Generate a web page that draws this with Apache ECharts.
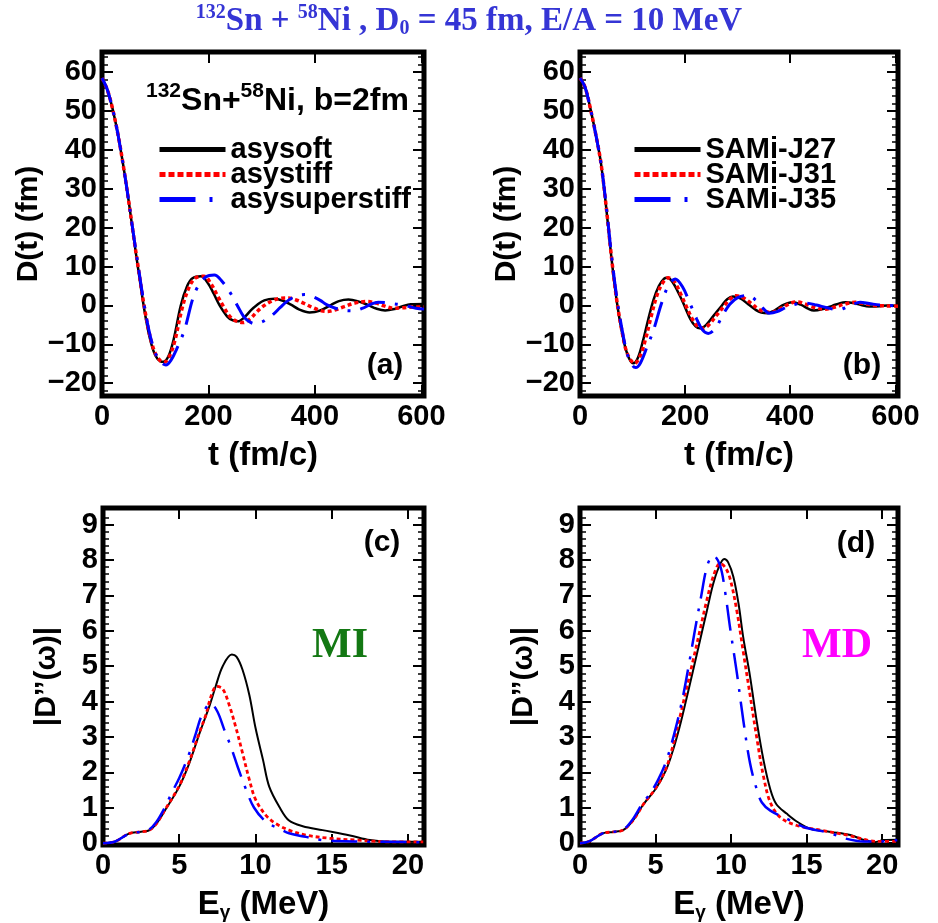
<!DOCTYPE html>
<html>
<head>
<meta charset="utf-8">
<script src="https://cdn.jsdelivr.net/npm/echarts@6/dist/echarts.min.js"></script>
<style>
  html, body { margin: 0; padding: 0; background: #fff; }
  #chart { width: 938px; height: 923px; }
</style>
</head>
<body>
<div id="chart"></div>
<script>
// ---- Dipole moment D(t) in fm, panel (a): three symmetry-energy stiffnesses ----
const asysoft = [[0,58.5],[10,55.5],[20,50.5],[30,44],[40,36],[50,27],[60,17],[70,7.5],[80,-1.5],[90,-8.5],[100,-12.8],[110,-14.4],[115,-14.5],[125,-13],[135,-8.5],[148,0],[160,5],[170,7],[186,7.5],[200,5.5],[210,3],[221,0],[235,-2.8],[245,-3.8],[255,-4.1],[268,-3],[280,-1.2],[290,0],[305,1.3],[324,1.7],[340,1.2],[355,0.2],[370,-1],[390,-1.8],[410,-1.3],[430,0.1],[445,1.1],[463,1.5],[480,1.1],[500,0.1],[515,-0.8],[532,-1.3],[550,-0.9],[565,-0.2],[580,0.3],[605,0.4]];
const asystiff = [[0,58.5],[10,55.5],[20,50.5],[30,44],[40,36],[50,27],[60,17.2],[70,8],[80,-0.8],[90,-7.8],[100,-12.3],[110,-14.3],[117,-14.6],[127,-13],[137,-9],[150,-1],[163,4.5],[175,7],[192,7.5],[205,5.5],[215,3],[227,0],[240,-2.8],[252,-4],[265,-4.4],[278,-3.5],[292,-1.5],[305,0],[320,1.2],[335,1.8],[350,1.9],[365,1.4],[380,0.5],[395,-0.5],[410,-1.3],[422,-1.55],[437,-1.2],[455,-0.3],[475,0.6],[497,1.0],[515,0.6],[530,-0.1],[547,-0.7],[565,-0.6],[585,-0.4],[605,-0.4]];
const asysuperstiff = [[0,58.5],[10,55.5],[20,50.5],[30,44],[40,36],[50,27],[60,17.5],[70,8.3],[80,-0.5],[90,-7.5],[100,-12.2],[110,-14.5],[120,-15.3],[130,-14],[140,-11.3],[155,-6.3],[170,1.5],[180,4.8],[195,7.3],[211,7.8],[225,6.3],[243,2.8],[255,-0.2],[265,-2.6],[275,-4],[287,-4.7],[300,-4.3],[310,-3.5],[321,-2.4],[335,-0.5],[350,1.3],[365,2.4],[381,2.8],[395,2.3],[410,1.3],[422,0.2],[440,-0.8],[455,-1.3],[472,-1.4],[490,-0.7],[505,0.3],[519,0.8],[535,0.7],[548,0.4],[560,0.2],[575,-0.2],[590,-0.7],[605,-0.95]];

// ---- Dipole moment D(t), panel (b): SAMi-J interactions ----
const samiJ27 = [[0,58.5],[10,56],[20,50.5],[30,44],[40,36.5],[50,25],[60,12],[70,1],[80,-7],[90,-12.5],[101,-14.9],[110,-13.5],[120,-9],[130,-3.5],[140,1.5],[150,5],[160,6.9],[166,7.1],[175,6.2],[190,2.5],[200,-0.5],[210,-3.5],[220,-5.4],[228,-5.9],[240,-5],[255,-2.5],[270,0],[280,1.6],[291,2.3],[305,1.8],[320,0.3],[335,-1.2],[345,-1.8],[357,-2],[370,-1.3],[385,0],[395,0.6],[405,0.8],[420,0.2],[435,-0.9],[445,-1.3],[460,-1.0],[480,-0.1],[495,0.6],[505,0.8],[520,0.6],[535,0.1],[550,-0.25],[570,-0.2],[585,0],[605,-0.1]];
const samiJ31 = [[0,58.5],[10,56],[20,50.5],[30,44],[40,36.5],[50,25.2],[60,12.3],[70,1.3],[80,-6.7],[90,-12.4],[104,-14.9],[115,-12.8],[125,-8.5],[135,-3],[145,2],[155,5.3],[168,7.1],[180,6],[193,2.5],[203,-0.5],[213,-3.3],[223,-5.3],[233,-5.9],[245,-5],[260,-2.5],[275,0],[285,1.6],[297,2.5],[310,2],[325,0.6],[340,-1],[352,-1.6],[363,-1.8],[377,-1.1],[392,0],[403,0.7],[414,0.9],[428,0.4],[445,-0.5],[467,-0.95],[485,-0.4],[505,0.4],[524,0.8],[540,0.5],[560,0],[580,-0.1],[605,-0.2]];
const samiJ35 = [[0,58.5],[10,56],[20,50.5],[30,44],[40,36.5],[50,25.5],[60,12.8],[70,2],[80,-6.2],[90,-12.5],[100,-15.5],[106,-16],[115,-14.8],[128,-10.5],[140,-6.3],[155,0.5],[168,5],[181,6.8],[195,4.8],[209,0.6],[222,-3.5],[233,-6.3],[244,-7.2],[258,-5.8],[272,-2.4],[285,0.3],[300,2],[319,2.6],[335,1.3],[348,-0.7],[360,-2],[375,-1.6],[392,-0.5],[410,0.3],[430,0.6],[450,0.1],[470,-0.6],[492,-1.1],[510,-0.3],[533,0.8],[550,0.5],[570,0.1],[605,-0.1]];

// ---- Strength |D''(omega)| vs E_gamma (MeV), panel (c): momentum-independent ----
const miSoft = [[0,0],[0.8,0.05],[1.7,0.27],[2.4,0.32],[3.0,0.36],[3.5,0.55],[4.1,0.95],[5.0,1.6],[5.65,2.25],[6.3,3.07],[7.0,3.9],[7.4,4.45],[7.85,5.0],[8.45,5.33],[8.75,5.27],[9.15,4.9],[9.6,4.18],[10.0,3.26],[10.5,2.34],[10.9,1.6],[11.6,1.0],[12.2,0.64],[13.1,0.48],[14.4,0.37],[16.2,0.22],[17.5,0.09],[18.8,0.04],[20.1,0.04],[21,0.04]];
const miStiff = [[0,0],[0.8,0.05],[1.7,0.27],[2.4,0.32],[3.0,0.36],[3.5,0.55],[4.1,0.97],[5.0,1.62],[5.65,2.3],[6.3,3.1],[6.75,3.63],[7.07,4.13],[7.45,4.43],[7.85,4.36],[8.28,3.9],[8.72,3.26],[9.16,2.53],[9.6,1.79],[10.0,1.24],[10.7,0.78],[11.35,0.55],[12.2,0.37],[13.3,0.23],[14.85,0.14],[16.6,0.09],[18.8,0.04],[21,0.04]];
const miSuperstiff = [[0,0],[0.8,0.05],[1.7,0.27],[2.4,0.32],[3.0,0.38],[3.5,0.6],[4.1,1.05],[4.5,1.42],[5.0,1.84],[5.65,2.53],[6.1,3.12],[6.5,3.63],[7.07,3.95],[7.5,3.72],[7.95,3.21],[8.4,2.71],[8.83,2.16],[9.38,1.52],[9.9,1.01],[10.7,0.6],[11.57,0.41],[12.2,0.28],[13.3,0.18],[14.4,0.09],[16.6,0.05],[21,0.03]];

// ---- Strength |D''(omega)|, panel (d): momentum-dependent (SAMi-J) ----
const mdJ27 = [[0,0],[0.6,0.05],[1.5,0.28],[2.2,0.32],[2.85,0.37],[3.5,0.64],[4.2,1.1],[5.05,1.56],[5.7,2.07],[6.15,2.62],[6.6,3.3],[7.05,4.09],[7.5,4.91],[7.95,5.74],[8.4,6.57],[8.8,7.3],[9.15,7.76],[9.55,8.03],[9.8,7.94],[10.15,7.53],[10.5,6.75],[10.8,5.83],[11.25,4.73],[11.7,3.44],[12.15,2.34],[12.6,1.52],[13.0,1.1],[13.7,0.83],[14.4,0.6],[15.25,0.41],[16.6,0.32],[17.9,0.23],[18.8,0.09],[19.5,0.03],[20.1,0.09],[21,0.1]];
const mdJ31 = [[0,0],[0.6,0.05],[1.5,0.28],[2.2,0.32],[2.85,0.37],[3.5,0.64],[4.2,1.1],[5.05,1.58],[5.7,2.12],[6.15,2.75],[6.6,3.54],[7.05,4.36],[7.5,5.19],[7.94,6.01],[8.38,6.84],[8.82,7.53],[9.27,7.9],[9.6,7.8],[9.93,7.48],[10.38,6.57],[10.82,5.37],[11.26,4.18],[11.7,2.98],[12.15,1.88],[12.6,1.15],[13.26,0.73],[14.37,0.5],[15.9,0.37],[17.7,0.23],[19.0,0.09],[19.7,0.05],[21,0.05]];
const mdJ35 = [[0,0],[0.6,0.05],[1.5,0.28],[2.2,0.32],[2.85,0.38],[3.5,0.68],[4.1,1.1],[4.6,1.38],[5.17,1.79],[5.72,2.34],[6.34,3.26],[6.83,4.18],[7.23,5.1],[7.6,6.0],[8.0,6.93],[8.43,7.85],[8.82,8.13],[9.27,7.85],[9.6,7.12],[9.93,6.1],[10.38,4.82],[10.82,3.44],[11.26,2.25],[11.7,1.52],[12.04,1.15],[12.6,0.92],[13.7,0.69],[14.8,0.46],[16.6,0.28],[17.5,0.14],[18.8,0.05],[19.9,0.05],[21,0.09]];

// ---- Axis ticks and labels ----
const timeTicks = [0, 200, 400, 600];
const dipoleTicks = [-20, -10, 0, 10, 20, 30, 40, 50, 60];
const dipoleMinor = [-22, -18, -16, -14, -12, -8, -6, -4, -2, 2, 4, 6, 8, 12, 14, 16, 18, 22, 24, 26, 28, 32, 34, 36, 38, 42, 44, 46, 48, 52, 54, 56, 58, 62, 64];
const energyTicks = [0, 5, 10, 15, 20];
const strengthTicks = [0, 1, 2, 3, 4, 5, 6, 7, 8, 9];
const strengthMinor = [];
for (let i = 0; i < 47; i++) { if (i % 5 !== 0) strengthMinor.push(+(i * 0.2).toFixed(1)); }

const softNames = ['asysoft', 'asystiff', 'asysuperstiff'];
const samiNames = ['SAMi-J27', 'SAMi-J31', 'SAMi-J35'];

const LABEL_FONT = 'Liberation Sans, Arial, sans-serif';
const SERIF_FONT = 'Liberation Serif, Times New Roman, serif';

const panels = [
  { grid: { left: 102, top: 52, width: 322, height: 344 }, x: [0, 605], y: [-23.3, 65.2],
    xTicks: timeTicks, yTicks: dipoleTicks, yMinor: dipoleMinor,
    xName: 't (fm/c)', yName: 'D(t) (fm)', yGap: 58 },
  { grid: { left: 580, top: 52, width: 318, height: 344 }, x: [0, 605], y: [-23.3, 65.2],
    xTicks: timeTicks, yTicks: dipoleTicks, yMinor: dipoleMinor,
    xName: 't (fm/c)', yName: 'D(t) (fm)', yGap: 58 },
  { grid: { left: 103, top: 508, width: 321, height: 346 }, x: [0, 21.05], y: [-0.05, 9.47],
    xTicks: energyTicks, yTicks: strengthTicks, yMinor: strengthMinor,
    xName: '{n|E}{s|γ}{n| (MeV)}', yName: '|D’’(ω)|', yGap: 41 },
  { grid: { left: 580, top: 508, width: 318, height: 346 }, x: [0, 21.05], y: [-0.05, 9.47],
    xTicks: energyTicks, yTicks: strengthTicks, yMinor: strengthMinor,
    xName: '{n|E}{s|γ}{n| (MeV)}', yName: '|D’’(ω)|', yGap: 41 }
];

const fmt = v => (v < 0 ? '\u2212' + Math.abs(v) : String(v));
const tickStyle = w => ({ color: '#000', width: w });
const hiddenLine = { show: false, onZero: false };

const grids = [], xAxes = [], yAxes = [];
panels.forEach((p, gi) => {
  grids.push(Object.assign({ show: true, borderWidth: 5, borderColor: '#000', backgroundColor: '#fff', containLabel: false }, p.grid));
  const xBase = { type: 'value', gridIndex: gi, min: p.x[0], max: p.x[1], splitLine: { show: false }, axisLine: hiddenLine };
  const yBase = { type: 'value', gridIndex: gi, min: p.y[0], max: p.y[1], splitLine: { show: false }, axisLine: hiddenLine };
  // bottom axis with labels and title
  xAxes.push(Object.assign({}, xBase, {
    position: 'bottom',
    name: p.xName, nameLocation: 'middle', nameGap: 43,
    nameTextStyle: { fontFamily: LABEL_FONT, fontWeight: 'bold', fontSize: 33, color: '#000',
      rich: { n: { fontFamily: LABEL_FONT, fontWeight: 'bold', fontSize: 33, color: '#000' },
              s: { fontFamily: LABEL_FONT, fontWeight: 'bold', fontSize: 19, color: '#000', padding: [15, 0, 0, 0] } } },
    axisTick: { show: true, inside: true, length: 11, customValues: p.xTicks, lineStyle: tickStyle(2) },
    axisLabel: { show: true, customValues: p.xTicks, margin: 6, formatter: fmt,
      fontFamily: LABEL_FONT, fontWeight: 'bold', fontSize: 29, color: '#000' }
  }));
  // top mirror ticks
  xAxes.push(Object.assign({}, xBase, {
    position: 'top',
    axisTick: { show: true, inside: true, length: 11, customValues: p.xTicks, lineStyle: tickStyle(2) },
    axisLabel: { show: false }
  }));
  // left axis: labels + major ticks
  yAxes.push(Object.assign({}, yBase, {
    position: 'left',
    name: p.yName, nameLocation: 'middle', nameRotate: 90, nameGap: p.yGap,
    nameTextStyle: { fontFamily: LABEL_FONT, fontWeight: 'bold', fontSize: 30, color: '#000' },
    axisTick: { show: true, inside: true, length: 11, customValues: p.yTicks, lineStyle: tickStyle(2) },
    axisLabel: { show: true, customValues: p.yTicks, margin: 5, formatter: fmt,
      fontFamily: LABEL_FONT, fontWeight: 'bold', fontSize: 29, color: '#000' }
  }));
  // left minor ticks
  yAxes.push(Object.assign({}, yBase, {
    position: 'left',
    axisTick: { show: true, inside: true, length: 6, customValues: p.yMinor, lineStyle: tickStyle(1.5) },
    axisLabel: { show: false }
  }));
  // right mirror ticks (major + minor)
  yAxes.push(Object.assign({}, yBase, {
    position: 'right',
    axisTick: { show: true, inside: true, length: 11, customValues: p.yTicks, lineStyle: tickStyle(2) },
    axisLabel: { show: false }
  }));
  yAxes.push(Object.assign({}, yBase, {
    position: 'right',
    axisTick: { show: true, inside: true, length: 6, customValues: p.yMinor, lineStyle: tickStyle(1.5) },
    axisLabel: { show: false }
  }));
});

// line styles for the three curves of each panel
const styleSolid = w => ({ color: '#000', width: w, type: 'solid' });
const styleDotted = w => ({ color: '#ff0000', width: w, type: [4, 3] });
const styleDashDot = w => ({ color: '#0000ff', width: w, type: [26, 10, 3, 10] });

function lineSeries(name, data, gi, lineStyle) {
  return {
    type: 'line', name, data, xAxisIndex: gi * 2, yAxisIndex: gi * 4,
    smooth: 0.35, symbol: 'none', showSymbol: false, animation: false,
    lineStyle, itemStyle: { color: lineStyle.color }, clip: true
  };
}

const series = [
  lineSeries(softNames[0], asysoft, 0, styleSolid(2.5)),
  lineSeries(softNames[1], asystiff, 0, styleDotted(3.5)),
  lineSeries(softNames[2], asysuperstiff, 0, styleDashDot(3)),
  lineSeries(samiNames[0], samiJ27, 1, styleSolid(2.5)),
  lineSeries(samiNames[1], samiJ31, 1, styleDotted(3.5)),
  lineSeries(samiNames[2], samiJ35, 1, styleDashDot(3)),
  lineSeries(softNames[0], miSoft, 2, styleSolid(2)),
  lineSeries(softNames[1], miStiff, 2, styleDotted(2.8)),
  lineSeries(softNames[2], miSuperstiff, 2, styleDashDot(2.5)),
  lineSeries(samiNames[0], mdJ27, 3, styleSolid(2)),
  lineSeries(samiNames[1], mdJ31, 3, styleDotted(2.8)),
  lineSeries(samiNames[2], mdJ35, 3, styleDashDot(2.5))
];

function legendAt(left, names, dashes) {
  return {
    left, top: 135, padding: 0, orient: 'vertical', itemWidth: 66, itemHeight: 14, itemGap: -4,
    selectedMode: false,
    data: names.map((n, i) => ({ name: n, itemStyle: { opacity: 0 },
      lineStyle: { width: 5, type: dashes[i] } })),
    itemStyle: { opacity: 0 },
    textStyle: { fontFamily: LABEL_FONT, fontWeight: 'bold', fontSize: 29, color: '#000', padding: [0, 0, 0, 0] }
  };
}
const legendDashes = ['solid', [6, 3], [36, 14, 3, 14]];

const supRich = {
  n: { fontFamily: LABEL_FONT, fontWeight: 'bold', fontSize: 32, fill: '#000', lineHeight: 36, verticalAlign: 'bottom' },
  u: { fontFamily: LABEL_FONT, fontWeight: 'bold', fontSize: 21, fill: '#000', lineHeight: 36, verticalAlign: 'top' }
};
const titleRich = {
  n: { fontFamily: SERIF_FONT, fontWeight: 'bold', fontSize: 33, fill: '#3535d5', lineHeight: 36, verticalAlign: 'middle' },
  u: { fontFamily: SERIF_FONT, fontWeight: 'bold', fontSize: 20, fill: '#3535d5', lineHeight: 36, verticalAlign: 'top' },
  d: { fontFamily: SERIF_FONT, fontWeight: 'bold', fontSize: 20, fill: '#3535d5', lineHeight: 36, verticalAlign: 'bottom' }
};

const panelTag = (txt, x, y) => ({
  type: 'text', x, y, z: 100,
  style: { text: txt, fontFamily: LABEL_FONT, fontWeight: 'bold', fontSize: 30, fill: '#000', align: 'center', verticalAlign: 'middle' }
});

const chart = echarts.init(document.getElementById('chart'), null, { renderer: 'canvas' });
chart.setOption({
  animation: false,
  backgroundColor: '#fff',
  grid: grids,
  xAxis: xAxes,
  yAxis: yAxes,
  legend: [legendAt(157, softNames, legendDashes), legendAt(632, samiNames, legendDashes)],
  series,
  graphic: [
    { type: 'text', x: 469, y: 21, z: 100,
      style: { text: '{u|132}{n|Sn + }{u|58}{n|Ni , D}{d|0}{n| = 45 fm, E/A = 10 MeV}', rich: titleRich,
        align: 'center', verticalAlign: 'middle' } },
    { type: 'text', x: 146, y: 99, z: 100,
      style: { text: '{u|132}{n|Sn+}{u|58}{n|Ni, b=2fm}', rich: supRich, align: 'left', verticalAlign: 'middle' } },
    panelTag('(a)', 385, 366),
    panelTag('(b)', 862, 366),
    panelTag('(c)', 382, 543),
    panelTag('(d)', 856, 544),
    { type: 'text', x: 340, y: 646, z: 100,
      style: { text: 'MI', fontFamily: SERIF_FONT, fontWeight: 'bold', fontSize: 42, fill: '#137813', align: 'center', verticalAlign: 'middle' } },
    { type: 'text', x: 837, y: 646, z: 100,
      style: { text: 'MD', fontFamily: SERIF_FONT, fontWeight: 'bold', fontSize: 42, fill: '#ff00ff', align: 'center', verticalAlign: 'middle' } }
  ]
});
</script>
</body>
</html>
